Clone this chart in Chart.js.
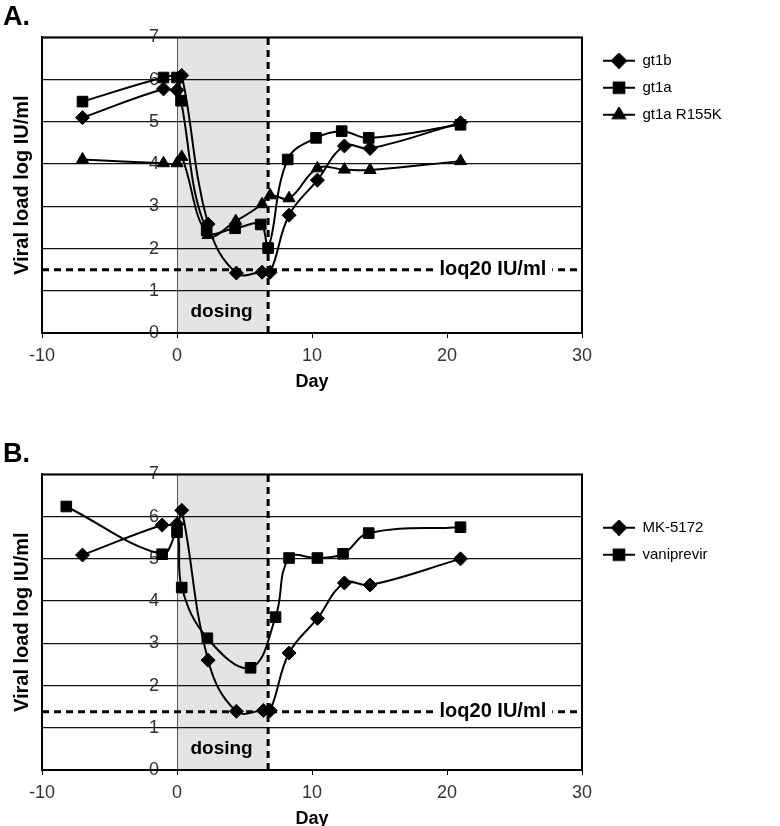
<!DOCTYPE html>
<html>
<head>
<meta charset="utf-8">
<script src="https://cdn.jsdelivr.net/npm/chart.js@4.4.1/dist/chart.umd.min.js"></script>
<style>
  body { margin: 0; background: #fff; width: 780px; height: 826px; overflow: hidden; position: relative; }
  .panel { position: absolute; left: 0; width: 780px; height: 400px; }
  #wrapA { top: 0; }
  #wrapB { top: 437px; }
</style>
</head>
<body>
<div class="panel" id="wrapA"><canvas id="chartA" width="780" height="400"></canvas></div>
<div class="panel" id="wrapB"><canvas id="chartB" width="780" height="400"></canvas></div>
<script>
// panel A - genotypes
const gt1bDays  = [-7, -1, 0, 0.35, 2.3, 4.4, 6.3, 6.9, 8.3, 10.4, 12.4, 14.3, 21];
const gt1bLoad  = [5.1, 5.78, 5.75, 6.1, 2.58, 1.42, 1.44, 1.44, 2.79, 3.62, 4.43, 4.37, 4.98];
const gt1aDays  = [-7, -1, 0, 0.3, 2.2, 4.3, 6.2, 6.75, 8.2, 10.3, 12.2, 14.2, 21];
const gt1aLoad  = [5.48, 6.05, 6.05, 5.5, 2.43, 2.48, 2.57, 2.01, 4.11, 4.62, 4.78, 4.62, 4.93];
const r155kDays = [-7, -1, 0, 0.35, 2.3, 4.35, 6.3, 6.9, 8.3, 10.4, 12.4, 14.3, 21];
const r155kLoad = [4.11, 4.02, 4.02, 4.17, 2.32, 2.65, 3.05, 3.26, 3.19, 3.9, 3.87, 3.86, 4.07];

// panel B - compounds
const mkDays   = [-7, -1.1, 0, 0.35, 2.3, 4.4, 6.4, 6.9, 8.3, 10.4, 12.4, 14.3, 21];
const mkLoad   = [5.09, 5.8, 5.82, 6.15, 2.6, 1.39, 1.41, 1.41, 2.77, 3.59, 4.43, 4.38, 5.0];
const vaniDays = [-8.2, -1.1, 0, 0.35, 2.25, 5.45, 7.3, 8.3, 10.4, 12.3, 14.2, 21];
const vaniLoad = [6.24, 5.11, 5.63, 4.32, 3.12, 2.42, 3.62, 5.02, 5.02, 5.12, 5.61, 5.75];

const dayRange  = [-10, 30];
const loadRange = [0, 7];
const dosingEnd = 6.75;
const loqA = 1.5, loqB = 1.38;
const loqText = 'loq20 IU/ml';

const FONT = '"Liberation Sans", Arial, sans-serif';
Chart.defaults.font.family = FONT;
Chart.defaults.color = '#000';

// legend sample: a line with the marker in the middle
function legendIcon(style, radius) {
    const c = document.createElement('canvas');
    c.width = 41; c.height = 16;
    const g = c.getContext('2d');
    g.strokeStyle = '#000'; g.fillStyle = '#000'; g.lineWidth = 2;
    g.beginPath(); g.moveTo(9, 8); g.lineTo(41, 8); g.stroke();
    Chart.helpers.drawPoint(g, { pointStyle: style, radius: radius, rotation: 0, borderWidth: 1 }, 25, 8);
    return c;
}

const guides = {
    id: 'guides',
    afterInit(chart) {
        // legend column is wider than chart.js measures it
        const lg = chart.legend;
        const fit = lg.fit.bind(lg);
        lg.fit = function () { fit(); this.width = 198; };
    },
    beforeDraw(chart) {
        const { ctx, chartArea: a, scales: { x } } = chart;
        const x0 = x.getPixelForValue(0), x1 = x.getPixelForValue(dosingEnd);
        ctx.save();
        ctx.fillStyle = '#e4e4e4';
        ctx.fillRect(x0, a.top, x1 - x0, a.bottom - a.top);
        ctx.restore();
    },
    beforeDatasetsDraw(chart, args, o) {
        const { ctx, chartArea: a, scales: { x, y } } = chart;
        ctx.save();
        ctx.strokeStyle = '#000'; ctx.lineWidth = 3; ctx.setLineDash([7, 5]);
        const xd = x.getPixelForValue(dosingEnd);
        ctx.beginPath(); ctx.moveTo(xd, a.bottom); ctx.lineTo(xd, a.top); ctx.stroke();
        const yl = y.getPixelForValue(o.loq);
        ctx.beginPath(); ctx.moveTo(a.left, yl); ctx.lineTo(a.right, yl); ctx.stroke();
        ctx.restore();
    },
    afterDatasetsDraw(chart, args, o) {
        const { ctx, scales: { x, y } } = chart;
        ctx.save();
        ctx.font = 'bold 20px ' + FONT;
        ctx.textAlign = 'center'; ctx.textBaseline = 'middle';
        const lx = x.getPixelForValue(23.4), ly = y.getPixelForValue(o.loq);
        const w = ctx.measureText(loqText).width + 12;
        ctx.fillStyle = '#fff'; ctx.fillRect(lx - w / 2, ly - 11, w, 22);
        ctx.fillStyle = '#000'; ctx.fillText(loqText, lx, ly);
        ctx.font = 'bold 19px ' + FONT;
        ctx.fillText('dosing', x.getPixelForValue(3.3), y.getPixelForValue(0.5));
        ctx.restore();
    },
    afterDraw(chart) {
        const { ctx, chartArea: a } = chart;
        ctx.save();
        ctx.strokeStyle = '#000'; ctx.lineWidth = 2;
        ctx.strokeRect(a.left, a.top, a.right - a.left, a.bottom - a.top);
        ctx.restore();
    }
};

function makePanel(canvasId, letter, series, loq, legendShift) {
    const icons = series.map(s => legendIcon(s.style, s.radius));
    return new Chart(document.getElementById(canvasId), {
        type: 'line',
        data: {
            datasets: series.map(s => ({
                label: s.label,
                data: s.days.map((d, i) => ({ x: d, y: s.load[i] })),
                borderColor: '#000', borderWidth: 2,
                pointStyle: s.style, pointRadius: s.radius,
                pointBackgroundColor: '#000', pointBorderColor: '#000', pointBorderWidth: 1,
                tension: 0.4, fill: false
            }))
        },
        options: {
            responsive: false, animation: false,
            layout: { padding: { left: 3, right: 0, top: 0, bottom: 0 } },
            plugins: {
                tooltip: { enabled: false },
                title: {
                    display: true, text: letter, align: 'start',
                    font: { size: 27, weight: 'bold' }, color: '#000',
                    padding: { top: 1, bottom: 4 }
                },
                legend: {
                    position: 'right', align: 'start',
                    title: { display: true, text: ' ', font: { size: 1 }, padding: { top: legendShift, bottom: 0 } },
                    labels: {
                        usePointStyle: true, pointStyleWidth: 41, boxHeight: 15,
                        font: { size: 15 }, color: '#000', padding: 12,
                        generateLabels: (chart) => chart.data.datasets.map((ds, i) => ({
                            text: ds.label, pointStyle: icons[i], datasetIndex: i,
                            fillStyle: '#000', strokeStyle: '#000', lineWidth: 0, hidden: false, fontColor: '#000'
                        }))
                    }
                },
                guides: { loq: loq }
            },
            scales: {
                x: {
                    type: 'linear', min: dayRange[0], max: dayRange[1],
                    ticks: { stepSize: 10, font: { size: 18 }, color: '#333', padding: 7, maxRotation: 0 },
                    grid: {
                        display: true, drawOnChartArea: true, drawTicks: true, tickLength: 5, tickColor: '#000',
                        color: (c) => (c.tick && c.tick.value === 0 ? '#555' : 'rgba(0,0,0,0)'), lineWidth: 1
                    },
                    border: { display: true, color: '#000', width: 2 },
                    title: { display: true, text: 'Day', font: { size: 18, weight: 'bold' }, color: '#000', padding: { top: 0, bottom: 7 } },
                    afterFit: (s) => { s.height = 67; }
                },
                y: {
                    type: 'linear', position: 'left', min: loadRange[0], max: loadRange[1],
                    ticks: { stepSize: 1, display: false },
                    grid: { color: '#111', lineWidth: 1.2, drawTicks: false },
                    border: { display: true, color: '#000', width: 2 },
                    title: { display: true, text: 'Viral load log IU/ml', font: { size: 20, weight: 'bold' }, color: '#000', padding: { top: 7, bottom: 0 } },
                    afterFit: (s) => { s.width = 39; }
                },
                y2: {
                    type: 'linear', axis: 'y', position: { x: -1.33 }, min: loadRange[0], max: loadRange[1],
                    ticks: { stepSize: 1, font: { size: 18 }, color: '#333', padding: 0 },
                    grid: { display: false },
                    border: { display: false },
                    afterFit: (s) => { s.width = 0; }
                }
            }
        },
        plugins: [guides]
    });
}

makePanel('chartA', 'A.', [
    { label: 'gt1b', days: gt1bDays, load: gt1bLoad, style: 'rectRot', radius: 7 },
    { label: 'gt1a', days: gt1aDays, load: gt1aLoad, style: 'rect', radius: 7.5 },
    { label: 'gt1a R155K', days: r155kDays, load: r155kLoad, style: 'triangle', radius: 7 }
], loqA, 40);

makePanel('chartB', 'B.', [
    { label: 'MK-5172', days: mkDays, load: mkLoad, style: 'rectRot', radius: 7 },
    { label: 'vaniprevir', days: vaniDays, load: vaniLoad, style: 'rect', radius: 7.5 }
], loqB, 70);
</script>
</body>
</html>
